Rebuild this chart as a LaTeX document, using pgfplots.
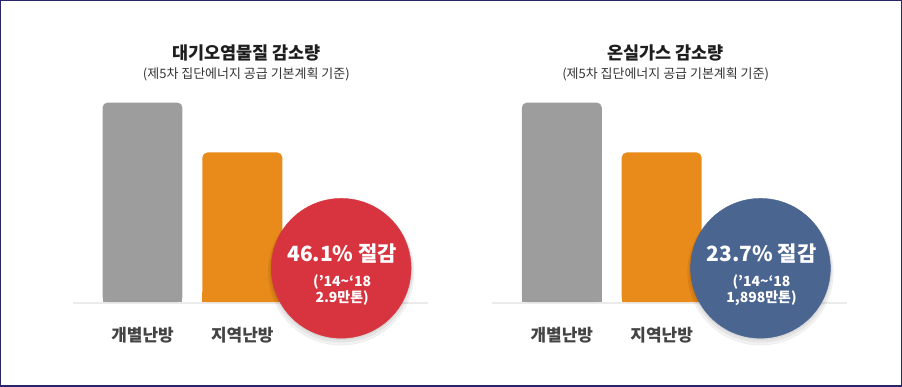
\documentclass[border=0pt]{standalone}
\usepackage{pgfplots}
\pgfplotsset{compat=1.18}
\usepackage{fontspec}
\setmainfont{Noto Sans CJK KR}
\definecolor{framec}{HTML}{2A2566}
\definecolor{barg}{HTML}{9D9D9D}
\definecolor{baro}{HTML}{E98B1A}
\definecolor{cred}{HTML}{D8343F}
\definecolor{cblue}{HTML}{4B6591}
\definecolor{basec}{HTML}{EBEBEB}
\definecolor{titlec}{HTML}{1E1E1E}
\definecolor{subc}{HTML}{333333}
\definecolor{labc}{HTML}{444444}
\pgfplotsset{
  canvas/.style={at={(0,0)}, anchor=south west, scale only axis, width=902pt, height=386pt,
    xmin=0, xmax=902, ymin=0, ymax=386, enlargelimits=false, clip=false},
  panel/.style={scale only axis, anchor=south west, width=356pt, height=220pt,
    ymin=0, ymax=220, enlargelimits=false, hide axis, clip=false},
  tbar/.style={ybar, bar width=80, bar shift=0pt, draw=none, fill=#1, rounded corners=5pt},
  cbar/.style={ybar, bar width=80, bar shift=0pt, draw=none, fill=#1},
  shadow/.style={only marks, mark=*, mark size=#1, opacity=0.05, color=black, mark options={draw=none, fill=black}},
}
\tikzset{
  bigt/.style={anchor=base, text=white, font=\fontsize{21}{23}\selectfont\bfseries},
  smallt/.style={anchor=base, text=white, font=\fontsize{14}{16}\selectfont\bfseries},
  titt/.style={anchor=base, text=titlec, font=\fontsize{17.5}{19}\selectfont\bfseries},
  subt/.style={anchor=base, text=subc, font=\fontsize{13}{15}\selectfont},
  labt/.style={anchor=base, text=labc, font=\fontsize{17}{19}\selectfont\bfseries},
}
\begin{document}
\begin{tikzpicture}
% background canvas with frame and texts
\begin{axis}[canvas, xtick=\empty, ytick=\empty, axis line style={draw=framec, line width=1.5pt}]
\addplot[draw=none] coordinates {(0,0)};
\node[titt] at (axis cs:246,327) {대기오염물질 감소량};
\node[subt] at (axis cs:246,308) {(제5차 집단에너지 공급 기본계획 기준)};
\node[titt] at (axis cs:666,327) {온실가스 감소량};
\node[subt] at (axis cs:666,308) {(제5차 집단에너지 공급 기본계획 기준)};
\node[labt] at (axis cs:142,45) {개별난방};
\node[labt] at (axis cs:242,45) {지역난방};
\node[labt] at (axis cs:562,45) {개별난방};
\node[labt] at (axis cs:662,45) {지역난방};
\end{axis}
% left panel
\begin{axis}[panel, at={(72pt,84pt)}, xmin=72, xmax=428]
\addplot[draw=basec, line width=2pt] coordinates {(72,-1) (428,-1)};
\addplot[tbar=barg] coordinates {(142,200)};
\addplot[cbar=barg] coordinates {(142,10)};
\addplot[tbar=baro] coordinates {(242,150)};
\addplot[cbar=baro] coordinates {(242,10)};
\addplot[shadow=73pt] coordinates {(341,30)};
\addplot[shadow=71.5pt] coordinates {(341,31.5)};
\addplot[shadow=70.5pt] coordinates {(341,33)};
\addplot[only marks, mark=*, mark size=70pt, color=cred, mark options={draw=none, fill=cred}] coordinates {(341,34)};
\end{axis}
% right panel
\begin{axis}[panel, at={(492pt,84pt)}, xmin=492, xmax=848]
\addplot[draw=basec, line width=2pt] coordinates {(492,-1) (848,-1)};
\addplot[tbar=barg] coordinates {(562,200)};
\addplot[cbar=barg] coordinates {(562,10)};
\addplot[tbar=baro] coordinates {(662,150)};
\addplot[cbar=baro] coordinates {(662,10)};
\addplot[shadow=73pt] coordinates {(761,30)};
\addplot[shadow=71.5pt] coordinates {(761,31.5)};
\addplot[shadow=70.5pt] coordinates {(761,33)};
\addplot[only marks, mark=*, mark size=70pt, color=cblue, mark options={draw=none, fill=cblue}] coordinates {(761,34)};
\end{axis}
% overlay texts in circles
\begin{axis}[canvas, hide axis]
\addplot[draw=none] coordinates {(0,0)};
\node[bigt] at (axis cs:342,125) {46.1\% 절감};
\node[smallt] at (axis cs:342,100) {(’14\textasciitilde‘18};
\node[smallt] at (axis cs:342,84) {2.9만톤)};
\node[bigt] at (axis cs:762,125) {23.7\% 절감};
\node[smallt] at (axis cs:762,100) {(’14\textasciitilde‘18};
\node[smallt] at (axis cs:762,84) {1,898만톤)};
\end{axis}
\end{tikzpicture}
\end{document}
